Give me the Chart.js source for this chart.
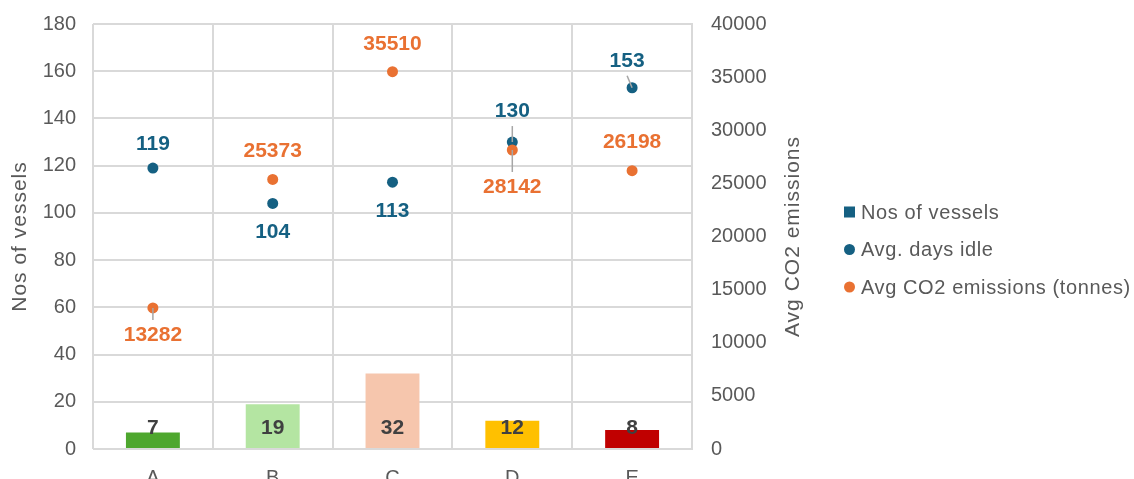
<!DOCTYPE html>
<html>
<head>
<meta charset="utf-8">
<script src="https://cdn.jsdelivr.net/npm/chart.js@4/dist/chart.umd.min.js"></script>
<style>
html,body{margin:0;padding:0;background:#ffffff;overflow:hidden;}
#wrap{width:1134px;height:479px;position:relative;}
</style>
</head>
<body>
<div id="wrap"><canvas id="c" width="1134" height="479"></canvas></div>
<script>
// ---- data ----
const categories = ['A', 'B', 'C', 'D', 'E'];
const vessels = [7, 19, 32, 12, 8];
const daysIdle = [119, 104, 113, 130, 153];
const co2Emissions = [13282, 25373, 35510, 28142, 26198];
const leftTickStep = 20;
const leftMax = 180;
const rightTickStep = 5000;
const rightMax = 40000;
const seriesNames = ['Nos of vessels', 'Avg. days idle', 'Avg CO2 emissions (tonnes)'];
const leftTitle = 'Nos of vessels';
const rightTitle = 'Avg CO2 emissions';

// ---- styles ----
const barColors = ['#4EA72E', '#B4E5A2', '#F6C6AD', '#FFC000', '#C00000'];
const blue = '#156082';
const orange = '#E97132';
const gridColor = '#D9D9D9';
const textGray = '#595959';
const FONT = "'Liberation Sans', Arial, sans-serif";
// label offsets (pixels relative to the point) and leader lines
const idleLabelOffset = [[0, -24], [0, 29], [0, 29], [0, -31], [-5, -27]];
const idleLeader = [false, false, false, true, true];
const co2LabelOffset = [[0, 27], [0, -28], [0, -28], [0, 37], [0, -28]];
const co2Leader = [true, false, false, true, false];

const labelPlugin = {
  id: 'labels',
  afterDatasetsDraw(chart) {
    const ctx = chart.ctx;
    const yScale = chart.scales.y;
    ctx.save();
    // bar labels (inside base)
    const barMeta = chart.getDatasetMeta(0);
    ctx.font = "bold 21px " + FONT;
    ctx.fillStyle = '#404040';
    ctx.textAlign = 'center';
    ctx.textBaseline = 'middle';
    barMeta.data.forEach((el, i) => {
      ctx.fillText(String(chart.data.datasets[0].data[i]), el.x, yScale.bottom - 21);
    });
    const drawSeries = (dsIndex, offsets, leaders, color) => {
      const meta = chart.getDatasetMeta(dsIndex);
      meta.data.forEach((el, i) => {
        const lx = el.x + offsets[i][0];
        const ly = el.y + offsets[i][1];
        if (leaders[i]) {
          const dir = Math.sign(offsets[i][1]);
          ctx.strokeStyle = '#A6A6A6';
          ctx.lineWidth = 1.5;
          ctx.beginPath();
          ctx.moveTo(lx, ly - dir * 15);
          ctx.lineTo(el.x, el.y);
          ctx.stroke();
        }
        ctx.font = "bold 21px " + FONT;
        ctx.fillStyle = color;
        ctx.textAlign = 'center';
        ctx.textBaseline = 'middle';
        ctx.fillText(String(chart.data.datasets[dsIndex].data[i]), lx, ly);
      });
    };
    drawSeries(1, idleLabelOffset, idleLeader, blue);
    drawSeries(2, co2LabelOffset, co2Leader, orange);
    ctx.restore();
  },
  afterDraw(chart) {
    const ctx = chart.ctx;
    const area = chart.chartArea;
    const cy = (area.top + area.bottom) / 2;
    ctx.save();
    ctx.fillStyle = textGray;
    ctx.font = "21px " + FONT;
    ctx.textAlign = 'center';
    ctx.textBaseline = 'middle';
    ctx.letterSpacing = '1px';
    // left title
    ctx.save();
    ctx.translate(20, cy);
    ctx.rotate(-Math.PI / 2);
    ctx.fillText(leftTitle, 0, 0);
    ctx.restore();
    // right title
    ctx.save();
    ctx.translate(793, cy);
    ctx.rotate(-Math.PI / 2);
    ctx.fillText(rightTitle, 0, 0);
    ctx.restore();
    // legend
    const lx = 844, ys = [212, 249.5, 287];
    ctx.font = "20px " + FONT;
    ctx.textAlign = 'left';
    ctx.letterSpacing = '0.6px';
    ctx.fillStyle = blue;
    ctx.fillRect(lx, ys[0] - 5.5, 11, 11);
    ctx.beginPath(); ctx.arc(lx + 5.5, ys[1], 5.5, 0, Math.PI * 2); ctx.fillStyle = blue; ctx.fill();
    ctx.beginPath(); ctx.arc(lx + 5.5, ys[2], 5.5, 0, Math.PI * 2); ctx.fillStyle = orange; ctx.fill();
    ctx.fillStyle = textGray;
    seriesNames.forEach((n, i) => ctx.fillText(n, lx + 17, ys[i] + 1));
    ctx.restore();
  }
};

const tickFont = { family: FONT, size: 20 };
function noPad(s) { s.paddingTop = 0; s.paddingBottom = 0; s.paddingLeft = 0; s.paddingRight = 0; }

new Chart(document.getElementById('c'), {
  data: {
    labels: categories,
    datasets: [
      {
        type: 'bar', label: seriesNames[0], data: vessels, backgroundColor: barColors,
        yAxisID: 'y', order: 3, barPercentage: 0.45, categoryPercentage: 1
      },
      {
        type: 'line', label: seriesNames[1], data: daysIdle, showLine: false,
        pointRadius: 5.5, pointBackgroundColor: blue, pointBorderColor: blue, pointBorderWidth: 0,
        yAxisID: 'y', order: 2
      },
      {
        type: 'line', label: seriesNames[2], data: co2Emissions, showLine: false,
        pointRadius: 5.5, pointBackgroundColor: orange, pointBorderColor: orange, pointBorderWidth: 0,
        yAxisID: 'y2', order: 1
      }
    ]
  },
  options: {
    responsive: false,
    animation: false,
    events: [],
    layout: { padding: { top: 24, right: 332, bottom: 0, left: 0 } },
    plugins: { legend: { display: false }, tooltip: { enabled: false } },
    scales: {
      x: {
        grid: { offset: true, color: gridColor, lineWidth: 2, drawTicks: false },
        border: { display: false },
        ticks: { padding: 17, font: tickFont, color: textGray },
        afterFit(s) { s.height = 30; noPad(s); }
      },
      y: {
        position: 'left', min: 0, max: leftMax,
        ticks: { stepSize: leftTickStep, padding: 17, font: tickFont, color: textGray },
        grid: { color: gridColor, lineWidth: 2, drawTicks: false },
        border: { display: false },
        afterFit(s) { s.width = 93; noPad(s); }
      },
      y2: {
        position: 'right', min: 0, max: rightMax,
        ticks: { stepSize: rightTickStep, padding: 19, font: tickFont, color: textGray,
                 callback: (v) => String(v) },
        grid: { display: false, drawTicks: false },
        border: { display: true, color: gridColor, width: 2 },
        afterFit(s) { s.width = 110; noPad(s); }
      }
    }
  },
  plugins: [labelPlugin]
});
</script>
</body>
</html>
